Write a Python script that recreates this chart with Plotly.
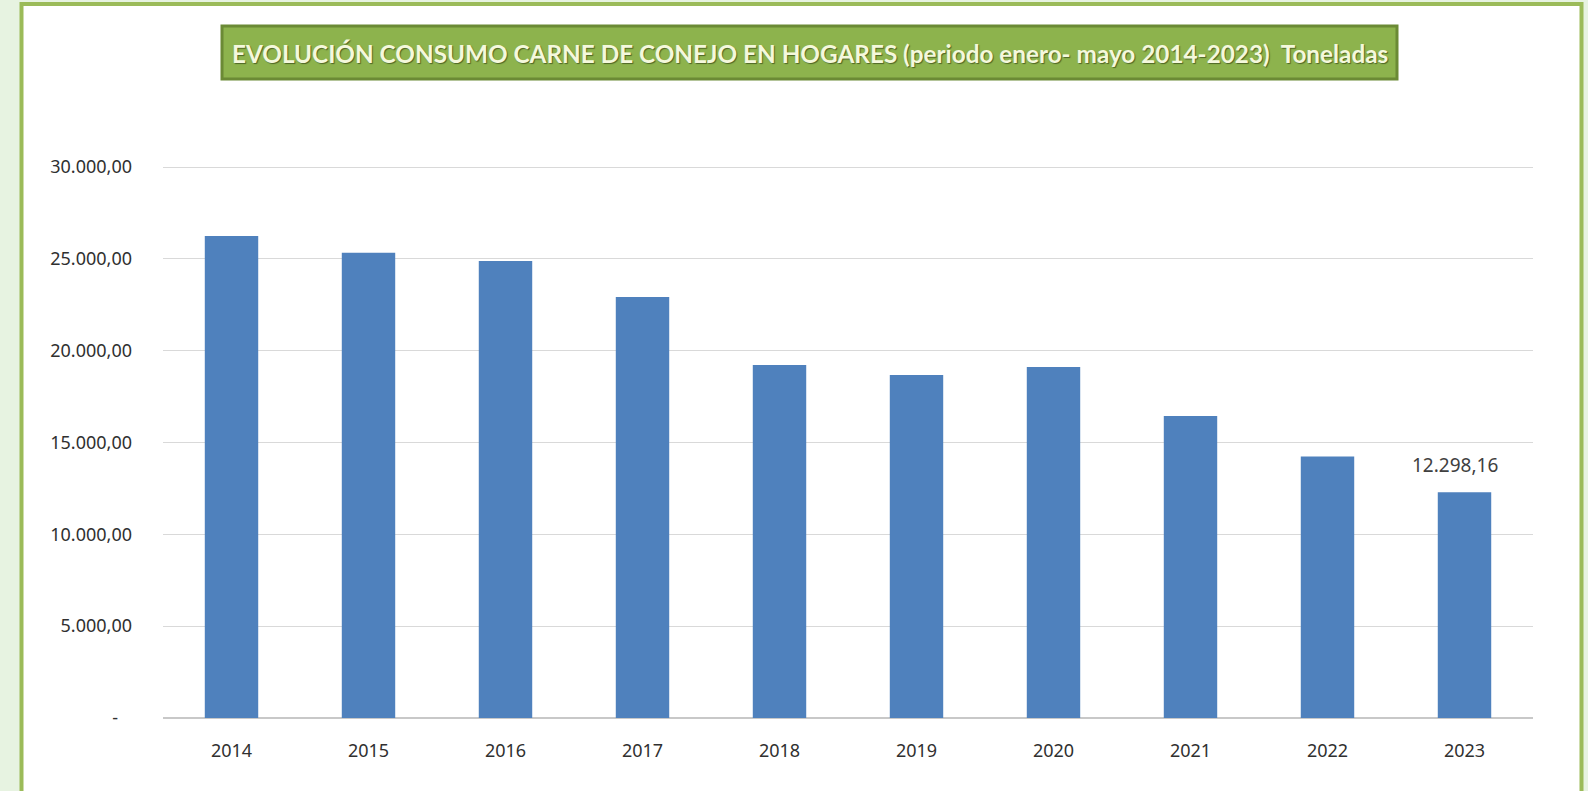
import plotly.graph_objects as go

years = ["2014", "2015", "2016", "2017", "2018", "2019", "2020", "2021", "2022", "2023"]
tons = [26250, 25340, 24890, 22930, 19220, 18680, 19110, 16450, 14240, 12298.16]
label_years = ["2023"]
ytick_vals = [0, 5000, 10000, 15000, 20000, 25000, 30000]
ytick_text = ["-\u00a0\u00a0\u00a0", "5.000,00", "10.000,00", "15.000,00", "20.000,00", "25.000,00", "30.000,00"]
title_text = "EVOLUCIÓN CONSUMO CARNE DE CONEJO EN HOGARES (periodo enero- mayo 2014-2023)  Toneladas"


def es_fmt(v):
    s = f"{v:,.2f}"
    return s.replace(",", "X").replace(".", ",").replace("X", ".")


W, H = 1588, 791
L, R, T, B = 163, 1533, 166, 718


def px(x):
    return (x - L) / (R - L)


def py(y):
    return (B - y) / (B - T)


fig = go.Figure()
fig.add_trace(go.Bar(
    x=years, y=tons, width=0.39,
    marker=dict(color="#4F81BD", line=dict(width=0)),
    hoverinfo="x+y",
))

for i, (yr, v) in enumerate(zip(years, tons)):
    if yr in label_years:
        fig.add_annotation(
            x=i, y=v, text=es_fmt(v), showarrow=False, xanchor="center", yanchor="bottom",
            xshift=-10, yshift=12,
            font=dict(family="Noto Sans", size=19, color="#404040"),
        )

shapes = [
    dict(type="rect", xref="paper", yref="paper", x0=px(-5), x1=px(1600), y0=py(800), y1=py(-5),
         fillcolor="#E7F3E1", line=dict(width=0), layer="below"),
    dict(type="rect", xref="paper", yref="paper", x0=px(21.5), x1=px(1581.5), y0=py(830), y1=py(4),
         fillcolor="white", line=dict(color="#9BBB59", width=4), layer="below"),
    dict(type="rect", xref="paper", yref="paper", x0=px(222), x1=px(1397), y0=py(79), y1=py(26),
         fillcolor="#8DB34D", line=dict(color="#6B8A35", width=3), layer="below"),
]

fig.add_annotation(
    xref="paper", yref="paper", x=px(809.5), y=py(53), text=title_text, showarrow=False,
    xanchor="center", yanchor="middle",
    font=dict(family="Lato", size=24.3, color="#F4F8DC", weight="bold",
              shadow="1px 1px 1px #4E6526"),
)

fig.update_layout(
    width=W, height=H,
    margin=dict(l=L, r=W - R, t=T, b=H - B),
    paper_bgcolor="white", plot_bgcolor="rgba(0,0,0,0)",
    shapes=shapes, showlegend=False,
    xaxis=dict(type="category", range=[-0.5, len(years) - 0.5], showgrid=False, showline=False,
               ticks="", ticklabelstandoff=20,
               tickfont=dict(family="Noto Sans", size=18, color="#303030")),
    yaxis=dict(range=[0, 30060], tickvals=ytick_vals, ticktext=ytick_text,
               showgrid=True, gridcolor="#D9D9D9", gridwidth=1,
               zeroline=True, zerolinecolor="#C8C8C8", zerolinewidth=2,
               showline=False, ticks="", ticklabelstandoff=30,
               tickfont=dict(family="Noto Sans", size=18, color="#303030")),
)

fig.write_html("out.html", config={"displayModeBar": False},
               post_script="document.body.style.margin='0px';")
